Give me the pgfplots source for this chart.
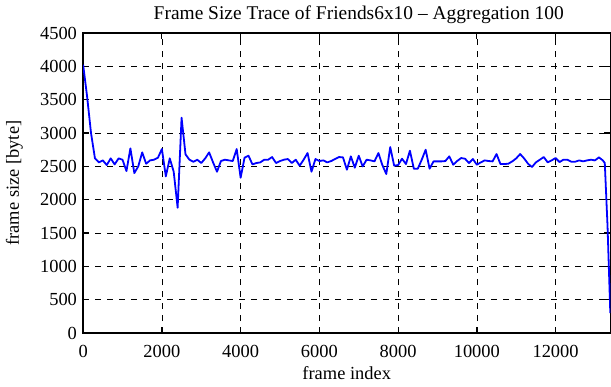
\documentclass[border=0pt]{standalone}
\usepackage{fontspec}
\setmainfont{Liberation Serif}
\usepackage{pgfplots}
\pgfplotsset{compat=1.18}
\begin{document}
\fontsize{18}{20}\selectfont
\begin{tikzpicture}[x=1bp,y=1bp]
\begin{axis}[
  scale only axis,
  width=527bp, height=300bp,
  xmin=0, xmax=13390, ymin=0, ymax=4500,
  xtick={0,2000,...,12000},
  ytick={0,500,...,4500},
  /pgf/number format/assume math mode=true,
  /pgf/number format/1000 sep={},
  scaled x ticks=false,
  tick label style={font=\fontsize{18.5}{20}\selectfont},
  xticklabel style={yshift=-6bp},
  label style={font=\fontsize{18.5}{20}\selectfont},
  title style={font=\fontsize{19.5}{22}\selectfont, yshift=-3bp, xshift=12bp},
  title={Frame Size Trace of Friends6x10 -- Aggregation 100},
  xlabel={frame index},
  ylabel={frame size [byte]},
  xlabel style={yshift=3bp},
  ylabel style={yshift=5bp},
  grid=major,
  major grid style={black, line width=0.6pt, dash pattern=on 6bp off 6bp},
  axis line style={black, line width=1.4pt},
  tick style={black, line width=1.2pt},
  major tick length=6bp,
  tick align=inside,
  xtick pos=both, ytick pos=both,
]
\addplot[blue, line width=1.8pt, line join=round] coordinates {
(0,4025) (100,3550) (200,3000) (300,2620) (400,2560) (500,2590) (600,2520) (700,2620) (800,2530) (900,2620)
(1000,2600) (1100,2430) (1200,2770) (1300,2400) (1400,2500) (1500,2710) (1600,2540) (1700,2590) (1800,2600) (1900,2630)
(2000,2760) (2100,2350) (2200,2620) (2300,2420) (2400,1880) (2500,3230) (2600,2680) (2700,2600) (2800,2570) (2900,2600)
(3000,2550) (3100,2620) (3200,2710) (3300,2560) (3400,2420) (3500,2580) (3600,2600) (3700,2590) (3800,2580) (3900,2760)
(4000,2330) (4100,2630) (4200,2660) (4300,2530) (4400,2550) (4500,2560) (4600,2600) (4700,2600) (4800,2640) (4900,2550)
(5000,2580) (5100,2600) (5200,2610) (5300,2550) (5400,2600) (5500,2510) (5600,2600) (5700,2700) (5800,2420) (5900,2610)
(6000,2580) (6100,2590) (6200,2560) (6300,2580) (6400,2610) (6500,2640) (6600,2635) (6700,2450) (6800,2650) (6900,2480)
(7000,2660) (7100,2500) (7200,2600) (7300,2590) (7400,2575) (7500,2700) (7600,2520) (7700,2385) (7800,2790) (7900,2510)
(8000,2520) (8100,2615) (8200,2535) (8300,2735) (8400,2465) (8500,2465) (8600,2600) (8700,2750) (8800,2465) (8900,2575)
(9000,2575) (9100,2575) (9200,2580) (9300,2650) (9400,2525) (9500,2580) (9600,2625) (9700,2615) (9800,2550) (9900,2610)
(10000,2525) (10100,2560) (10200,2590) (10300,2580) (10400,2575) (10500,2685) (10600,2535) (10700,2535) (10800,2540) (10900,2575)
(11000,2620) (11100,2685) (11200,2620) (11300,2540) (11400,2490) (11500,2560) (11600,2600) (11700,2640) (11800,2560) (11900,2590)
(12000,2625) (12100,2565) (12200,2600) (12300,2600) (12400,2570) (12500,2570) (12600,2590) (12700,2575) (12800,2590) (12900,2600)
(13000,2590) (13100,2635) (13200,2590) (13250,2550) (13320,1600) (13390,300)
};
\end{axis}
\end{tikzpicture}
\end{document}
